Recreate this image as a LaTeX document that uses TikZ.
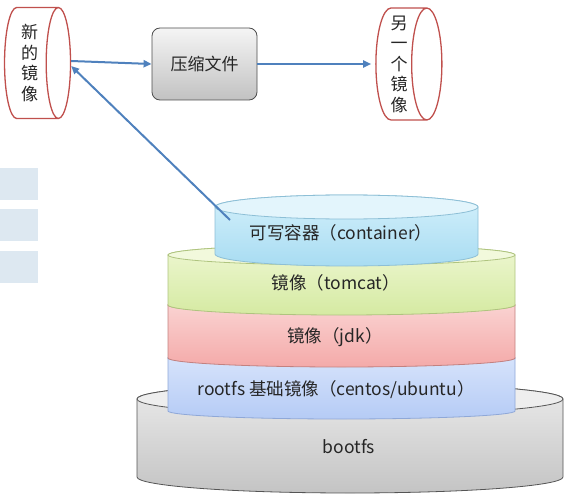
\documentclass[tikz,border=0pt]{standalone}
\usepackage{fontspec}
\setmainfont{Noto Sans CJK SC}
\usepackage{tikz}
\usetikzlibrary{shapes.geometric, arrows.meta, positioning}

\definecolor{imgred}{HTML}{C0504D}
\definecolor{flowblue}{HTML}{4F81BD}
\definecolor{txtgray}{HTML}{262626}
\definecolor{sidebox}{HTML}{DDE8F1}
\definecolor{bootA}{HTML}{EBEBEB}\definecolor{bootB}{HTML}{C4C4C4}
\definecolor{bootF}{HTML}{EEEEEE}\definecolor{bootD}{HTML}{555555}
\definecolor{rootA}{HTML}{DAE6FC}\definecolor{rootB}{HTML}{B5CBF5}
\definecolor{rootF}{HTML}{DDE7FB}\definecolor{rootD}{HTML}{8FA8D8}
\definecolor{jdkA}{HTML}{FBD8D7}\definecolor{jdkB}{HTML}{F4AAA9}
\definecolor{jdkF}{HTML}{FCE2E2}\definecolor{jdkD}{HTML}{C3817F}
\definecolor{tomA}{HTML}{EEF7D2}\definecolor{tomB}{HTML}{D5EAA2}
\definecolor{tomF}{HTML}{F2F9DC}\definecolor{tomD}{HTML}{AFC47F}
\definecolor{contA}{HTML}{D3F0FB}\definecolor{contB}{HTML}{A8DCF2}
\definecolor{contF}{HTML}{E3F5FC}\definecolor{contD}{HTML}{8DBFD6}

% cx, rx, ytop, ybot, ry, body top, body bottom, face, border
\newcommand{\stackdisk}[9]{%
  \path[draw=#9, line width=0.8pt, top color=#6, bottom color=#7]
    (#1-#2,-#3) -- (#1-#2,-#4)
    arc[start angle=180, end angle=360, x radius=#2pt, y radius=#5pt]
    -- (#1+#2,-#3)
    arc[start angle=0, end angle=180, x radius=#2pt, y radius=#5pt] -- cycle;
  \path[draw=#9, line width=0.8pt, fill=#8] (#1,-#3) ellipse[x radius=#2pt, y radius=#5pt];
}

\begin{document}
\begin{tikzpicture}[x=1pt, y=1pt,
    drum/.style={cylinder, draw=imgred, line width=1.3pt, fill=white, aspect=0.3,
      inner xsep=2pt, inner ysep=2pt, align=center,
      text=txtgray, font=\fontsize{17}{20.5}\selectfont},
    zipbox/.style={draw=black!70, line width=0.8pt, rounded corners=8pt,
      top color=black!4, bottom color=black!24, minimum width=105pt,
      minimum height=72pt, text=txtgray, font=\fontsize{17}{20}\selectfont},
    flow/.style={draw=flowblue, line width=2pt, -{Triangle[length=8pt,width=7pt]}},
    layertxt/.style={text=txtgray, font=\fontsize{17.5}{20}\selectfont}]

  \useasboundingbox (0,0) rectangle (570,-500);

  \fill[sidebox] (0,-168) rectangle (38,-200);
  \fill[sidebox] (0,-209) rectangle (38,-241);
  \fill[sidebox] (0,-251) rectangle (38,-283);

  \node[drum, minimum height=66pt, minimum width=111pt] (newimg) at (29.5,-63) {新\\的\\镜\\像};
  \node[zipbox] (zip) at (204.5,-64) {压缩文件};
  \node[drum, minimum height=66pt, minimum width=112pt] (otherimg) at (399,-64) {另\\一\\个\\镜\\像};

  \stackdisk{350}{213}{399}{477}{16}{bootA}{bootB}{bootF}{bootD}
  \stackdisk{341.5}{173.5}{358}{411}{8}{rootA}{rootB}{rootF}{rootD}
  \stackdisk{341.5}{173.5}{305}{358}{9}{jdkA}{jdkB}{jdkF}{jdkD}
  \stackdisk{341.5}{173.5}{255}{305}{10}{tomA}{tomB}{tomF}{tomD}
  \stackdisk{346.5}{131.5}{207}{254}{12}{contA}{contB}{contF}{contD}

  \node[layertxt] (bootfs) at (349,-447) {bootfs};
  \node[layertxt] (rootfs) at (336,-390) {rootfs 基础镜像（centos/ubuntu）};
  \node[layertxt] (jdk) at (335,-337) {镜像（jdk）};
  \node[layertxt] (tomcat) at (336,-283) {镜像（tomcat）};
  \node[layertxt] (cont) at (341,-233) {可写容器（container）};

  \coordinate (cin) at (230,-220);

  \draw[flow] ([yshift=2pt]newimg.east) -- (zip.west);
  \draw[flow] (zip.east) -- ([xshift=-4pt]otherimg.west);
  \draw[flow] (cin) -- ([yshift=-3pt]newimg.east);

\end{tikzpicture}
\end{document}
